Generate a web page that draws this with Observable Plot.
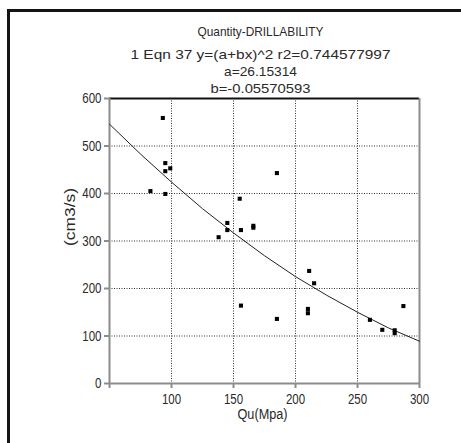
<!DOCTYPE html>
<html><head><meta charset="utf-8">
<script src="https://cdn.jsdelivr.net/npm/d3@7"></script>
<script src="https://cdn.jsdelivr.net/npm/@observablehq/plot@0.6"></script>
<style>
html,body{margin:0;padding:0;background:#fff;}
#chart{position:relative;width:461px;height:443px;overflow:hidden;background:#fff;}
#border{position:absolute;left:7px;top:9px;width:480px;height:480px;border-left:3px solid #141414;border-top:3px solid #141414;}
#chart svg{position:absolute;left:0;top:0;}
</style></head><body><div id="chart"><div id="border"></div></div>
<script>
// measured points: Qu (MPa) and drillability (cm3/s)
const qu   = [93, 95, 95, 99, 83, 95, 138, 145, 145, 155, 156, 166, 166, 185, 156, 185, 211, 215, 210, 210, 260, 270, 280, 280, 287];
const flow = [559, 464, 447, 453, 405, 399, 308, 338, 323, 389, 323, 332, 328, 443, 164, 136, 237, 211, 157, 148, 134, 113, 112, 106, 163];
// fitted curve
const fitQu   = [50, 75, 100, 125, 150, 175, 200, 225, 250, 275, 300];
const fitFlow = [546, 483, 424, 368, 317, 269, 225, 186, 150, 117, 89];
const titleLines = ["Quantity-DRILLABILITY", "1 Eqn 37 y=(a+bx)^2 r2=0.744577997", "a=26.15314", "b=-0.05570593"];
const xTicks = [50, 100, 150, 200, 250, 300];
const xTickLabels = ["", "100", "150", "200", "250", "300"];
const yTicks = [0, 100, 200, 300, 400, 500, 600];
const xGrid = [100, 150, 200, 250];
const yGrid = [100, 200, 300, 400, 500];
const xLabel = "Qu(Mpa)";
const yLabel = "(cm3/s)";

const points = qu.map((q, i) => ({qu: q, flow: flow[i]}));
const fit = fitQu.map((q, i) => ({qu: q, flow: fitFlow[i]}));

const titleDy = [-72, -49, -32, -15];
const titleWidths = [126, 260, 73, 100];
const axisGray = "#8c8c8c";
const txt = "#2a2a2a";
const font = "'Liberation Sans',Arial,sans-serif";

const plot = Plot.plot({
  width: 461, height: 443,
  marginLeft: 109, marginRight: 42, marginTop: 98, marginBottom: 60,
  x: {domain: [50, 300]},
  y: {domain: [0, 600]},
  style: {fontFamily: font, background: "transparent", overflow: "visible"},
  marks: [
    Plot.ruleX(xGrid, {stroke: "#333", strokeDasharray: "1,1.5", strokeWidth: 1}),
    Plot.ruleY(yGrid, {stroke: "#333", strokeDasharray: "1,1.5", strokeWidth: 1}),
    Plot.ruleY([600], {stroke: "#111", strokeWidth: 2}),
    Plot.ruleX([300], {stroke: axisGray, strokeWidth: 2}),
    Plot.ruleX([50], {stroke: axisGray, strokeWidth: 2}),
    Plot.ruleY([0], {stroke: axisGray, strokeWidth: 2}),
    Plot.axisY({ticks: yTicks, tickSize: 5, tickPadding: 3, stroke: axisGray, strokeWidth: 2, fill: txt, fontSize: 15, label: null}),
    Plot.axisX({ticks: xTicks, tickFormat: (d, i) => xTickLabels[i], tickSize: 5, tickPadding: 5, stroke: axisGray, strokeWidth: 2, fill: txt, fontSize: 15, label: null}),
    Plot.line(fit, {x: "qu", y: "flow", stroke: "#222", strokeWidth: 1}),
    Plot.dot(points, {x: "qu", y: "flow", symbol: "square", r: 2.3, fill: "#000", stroke: null}),
    ...titleLines.map((t, i) => Plot.text([t], {text: d => d, frameAnchor: "top", dy: titleDy[i], dx: -4, fontSize: 13, fill: txt})),
    Plot.text([yLabel], {text: d => d, frameAnchor: "left", dx: -39, dy: 5, rotate: -90, fontSize: 14, fill: txt}),
    Plot.text([xLabel], {text: d => d, frameAnchor: "bottom", dy: 35, dx: -2, fontSize: 14, fill: txt})
  ]
});
const fixedWidths = new Map(titleLines.map((t, i) => [t, titleWidths[i]]));
fixedWidths.set(xLabel, 50);
fixedWidths.set(yLabel, 58);
const g = d3.select(plot);
g.selectAll("text").each(function() {
  const t = this.textContent;
  let w = fixedWidths.get(t);
  if (w == null && /^\d+$/.test(t)) w = t.length * 6.4;
  if (w != null) {
    this.setAttribute("textLength", w);
    this.setAttribute("lengthAdjust", "spacingAndGlyphs");
  }
});
document.getElementById("chart").appendChild(plot);
</script></body></html>
